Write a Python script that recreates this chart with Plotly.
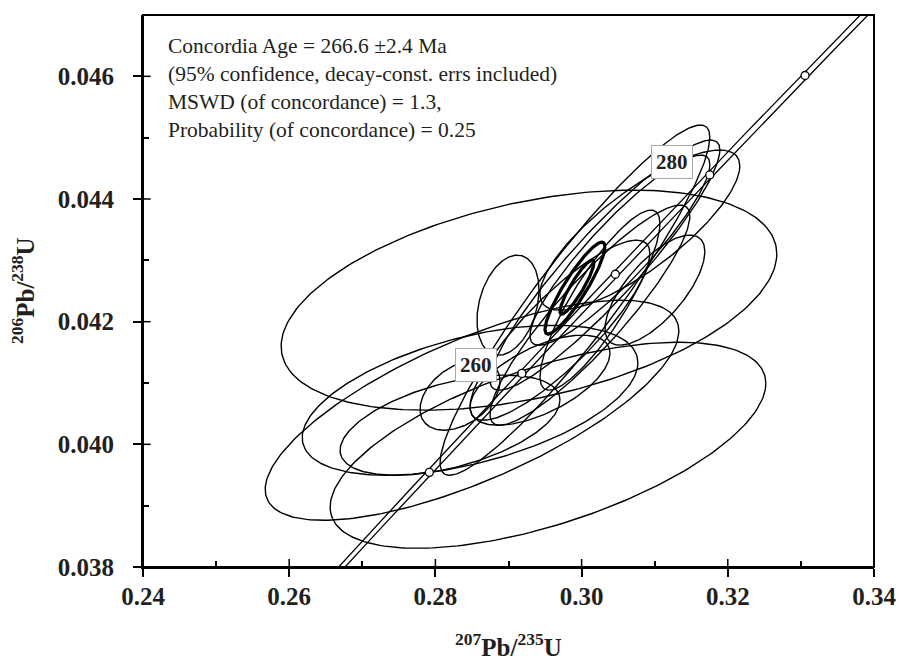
import numpy as np
import plotly.graph_objects as go

# ---------------- data ----------------
# analysis ellipses: centre 207Pb/235U, half-width, centre 206Pb/238U, half-height, rho
x207 = [0.29280, 0.28501, 0.29540, 0.28474, 0.28200, 0.28993, 0.28337, 0.29909,
        0.30319, 0.30114, 0.31003, 0.30524, 0.29704, 0.30797, 0.29431, 0.30251]
ex207 = [0.03390, 0.02829, 0.02980, 0.02296, 0.01504, 0.00424, 0.00547, 0.01845,
         0.01572, 0.01367, 0.00683, 0.01230, 0.01230, 0.01367, 0.00957, 0.00820]
y206 = [0.042351, 0.040556, 0.039985, 0.040719, 0.040312, 0.042269, 0.040801, 0.042351,
        0.042922, 0.042106, 0.042514, 0.043166, 0.041861, 0.043493, 0.041046, 0.042351]
ey206 = [0.001794, 0.001794, 0.001680, 0.001223, 0.000816, 0.000816, 0.000571, 0.002855,
         0.002039, 0.001794, 0.000897, 0.001550, 0.001468, 0.001305, 0.000734, 0.001468]
rho = [0.42, 0.72, 0.60, 0.50, 0.50, 0.30, 0.40, 0.93,
       0.92, 0.90, 0.70, 0.90, 0.85, 0.80, 0.60, 0.85]

# concordia-age (bold) ellipses
mean_x = [0.29909, 0.29936]
mean_ex = [0.00410, 0.00232]
mean_y = [0.042547, 0.042563]
mean_ey = [0.00075, 0.00044]
mean_rho = [0.90, 0.90]

# decay constants (1/yr) and concordia band relative uncertainty
lam238 = 1.55125e-10
lam235 = 9.8485e-10
band_rel = 0.0015

tick_ages = [250, 260, 270, 280, 290]     # Ma
label_ages = [260, 280]

xticks = [0.24, 0.26, 0.28, 0.30, 0.32, 0.34]
yticks = [0.038, 0.040, 0.042, 0.044, 0.046]
xminor = [0.25, 0.27, 0.29, 0.31, 0.33]
yminor = [0.039, 0.041, 0.043, 0.045]

info_lines = [
    "Concordia Age = 266.6 \u00b12.4 Ma",
    "(95% confidence, decay-const. errs included)",
    "MSWD (of concordance) = 1.3,",
    "Probability (of concordance) = 0.25",
]

FONT = "Liberation Serif, Times New Roman, serif"
INK = "#231f20"


def ellipse(cx, ex, cy, ey, r, n=240):
    t = np.linspace(0, 2 * np.pi, n)
    x = cx + ex * np.cos(t)
    y = cy + ey * (r * np.cos(t) + np.sqrt(1 - r * r) * np.sin(t))
    return x, y


fig = go.Figure()

# concordia band
ages = np.linspace(200, 320, 400) * 1e6
yc = np.exp(lam238 * ages) - 1
for s in (-1, 1):
    xc = np.exp(lam235 * (1 + s * band_rel) * ages) - 1
    fig.add_trace(go.Scatter(x=xc, y=yc, mode="lines",
                             line=dict(color="black", width=1.3),
                             hoverinfo="skip", showlegend=False))

for i in range(len(x207)):
    ex_, ey_ = ellipse(x207[i], ex207[i], y206[i], ey206[i], rho[i])
    fig.add_trace(go.Scatter(x=ex_, y=ey_, mode="lines",
                             line=dict(color="black", width=1.4),
                             hoverinfo="skip", showlegend=False))

for i in range(len(mean_x)):
    ex_, ey_ = ellipse(mean_x[i], mean_ex[i], mean_y[i], mean_ey[i], mean_rho[i])
    fig.add_trace(go.Scatter(x=ex_, y=ey_, mode="lines",
                             line=dict(color="black", width=3.2),
                             hoverinfo="skip", showlegend=False))

# age tick markers
ta = np.array(tick_ages) * 1e6
fig.add_trace(go.Scatter(x=np.exp(lam235 * ta) - 1, y=np.exp(lam238 * ta) - 1,
                         mode="markers",
                         marker=dict(symbol="circle", size=8, color="white",
                                     line=dict(color="black", width=1.3)),
                         hoverinfo="skip", showlegend=False))

annotations = []
for a, (dx, dy) in zip(label_ages, [(-46, 8), (-38, 13)]):
    t = a * 1e6
    annotations.append(dict(
        x=np.exp(lam235 * t) - 1, y=np.exp(lam238 * t) - 1,
        xref="x", yref="y", text="<b>%d</b>" % a, showarrow=False,
        xshift=dx, yshift=dy, bgcolor="white", bordercolor="#a8a8a8",
        borderwidth=1, borderpad=4,
        font=dict(family=FONT, size=21, color=INK)))

annotations.append(dict(
    x=0.0345, y=0.99, xref="paper", yref="paper", xanchor="left", yanchor="top",
    xshift=-2, yshift=-11, text="<br>".join(info_lines), showarrow=False, align="left",
    font=dict(family=FONT, size=21.5, color=INK)))

annotations.append(dict(
    x=0.5, y=0, xref="paper", yref="paper", xanchor="center", yanchor="top",
    yshift=-60, text="<b><sup>207</sup>Pb/<sup>235</sup>U</b>", showarrow=False,
    font=dict(family=FONT, size=25, color=INK)))
annotations.append(dict(
    x=0, y=0.5, xref="paper", yref="paper", xanchor="center", yanchor="middle",
    xshift=-120, textangle=-90,
    text="<b><sup>206</sup>Pb/<sup>238</sup>U</b>", showarrow=False,
    font=dict(family=FONT, size=25, color=INK)))

shapes = []
# inside half of major ticks
for v in xticks:
    shapes.append(dict(type="line", xref="x", yref="paper", x0=v, x1=v, y0=0, y1=0.0145,
                       line=dict(color="black", width=1.5)))
for v in yticks:
    shapes.append(dict(type="line", xref="paper", yref="y", x0=0, x1=0.0105, y0=v, y1=v,
                       line=dict(color="black", width=1.5)))
# frame
shapes.append(dict(type="rect", xref="paper", yref="paper", x0=0, x1=1, y0=0, y1=1,
                   line=dict(color="black", width=2)))

fig.update_layout(
    width=899, height=660, autosize=False,
    margin=dict(l=143, r=25, t=15, b=93),
    paper_bgcolor="white", plot_bgcolor="white",
    annotations=annotations, shapes=shapes,
    font=dict(family=FONT, color=INK),
)
fig.update_xaxes(range=[0.24, 0.34], tickvals=xticks,
                 ticktext=["<b>%.2f</b>" % v for v in xticks],
                 ticks="outside", ticklen=8, tickwidth=1.5, tickcolor="black",
                 showline=True, linecolor="black", linewidth=2, mirror=False,
                 showgrid=False, zeroline=False, automargin=False,
                 tickfont=dict(family=FONT, size=25, color=INK),
                 ticklabelstandoff=-2,
                 minor=dict(tickvals=xminor, ticks="inside",
                            ticklen=6, tickwidth=1.5, tickcolor="black"))
fig.update_yaxes(range=[0.038, 0.047], tickvals=yticks,
                 ticktext=["<b>%.3f</b>" % v for v in yticks],
                 ticks="outside", ticklen=8, tickwidth=1.5, tickcolor="black",
                 showline=True, linecolor="black", linewidth=2, mirror=False,
                 showgrid=False, zeroline=False, automargin=False,
                 tickfont=dict(family=FONT, size=25, color=INK),
                 ticklabelstandoff=14,
                 minor=dict(tickvals=yminor, ticks="inside",
                            ticklen=6, tickwidth=1.5, tickcolor="black"))

fig.write_html("out.html", config={"displayModeBar": False},
               post_script="document.body.style.margin='0';"
                           "document.body.style.overflow='hidden';")
